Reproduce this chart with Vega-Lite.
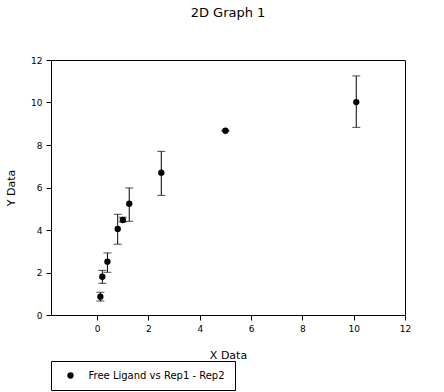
{
  "$schema": "https://vega.github.io/schema/vega-lite/v6.json",
  "width": 354,
  "height": 255,
  "autosize": {"type": "none"},
  "padding": {"left": 51, "top": 60, "right": 39, "bottom": 77},
  "background": "white",
  "title": {"text": "2D Graph 1", "fontSize": 13, "font": "DejaVu Sans", "fontWeight": "normal", "anchor": "middle", "offset": 36, "color": "black"},
  "config": {
    "view": {"stroke": "black", "strokeWidth": 1},
    "axis": {"grid": false, "domainColor": "black", "tickColor": "black", "labelColor": "black", "titleColor": "black", "labelFont": "DejaVu Sans", "titleFont": "DejaVu Sans", "labelFontSize": 9, "titleFontSize": 11, "titleFontWeight": "normal", "tickSize": 5, "labelPadding": 4, "labelFlush": false, "labelOverlap": false}
  },
  "data": {"values": [
    {"x": 0.125, "y": 0.86, "lo": 0.66, "hi": 1.07},
    {"x": 0.2, "y": 1.8, "lo": 1.49, "hi": 2.1},
    {"x": 0.4, "y": 2.51, "lo": 2.01, "hi": 2.92},
    {"x": 0.8, "y": 4.05, "lo": 3.33, "hi": 4.74},
    {"x": 1.0, "y": 4.47, "lo": 4.38, "hi": 4.6},
    {"x": 1.25, "y": 5.24, "lo": 4.41, "hi": 5.98},
    {"x": 2.5, "y": 6.7, "lo": 5.63, "hi": 7.7},
    {"x": 5.0, "y": 8.67, "lo": 8.65, "hi": 8.69},
    {"x": 10.1, "y": 10.02, "lo": 8.83, "hi": 11.25}
  ]},
  "layer": [
    {
      "mark": {"type": "rule", "color": "black", "strokeWidth": 1},
      "encoding": {
        "x": {"field": "x", "type": "quantitative", "scale": {"domain": [-1.8, 12], "nice": false, "zero": false}, "axis": {"values": [0, 2, 4, 6, 8, 10, 12], "title": "X Data", "titlePadding": 16}},
        "y": {"field": "lo", "type": "quantitative", "scale": {"domain": [0, 12], "nice": false}, "axis": {"values": [0, 2, 4, 6, 8, 10, 12], "title": "Y Data", "titlePadding": 14}},
        "y2": {"field": "hi"}
      }
    },
    {
      "mark": {"type": "tick", "color": "black", "orient": "horizontal", "size": 8, "thickness": 1},
      "encoding": {
        "x": {"field": "x", "type": "quantitative"},
        "y": {"field": "lo", "type": "quantitative"}
      }
    },
    {
      "mark": {"type": "tick", "color": "black", "orient": "horizontal", "size": 8, "thickness": 1},
      "encoding": {
        "x": {"field": "x", "type": "quantitative"},
        "y": {"field": "hi", "type": "quantitative"}
      }
    },
    {
      "mark": {"type": "point", "shape": "circle", "filled": true, "size": 40, "opacity": 1},
      "encoding": {
        "x": {"field": "x", "type": "quantitative"},
        "y": {"field": "y", "type": "quantitative"},
        "color": {"datum": "Free Ligand vs Rep1 - Rep2", "type": "nominal", "scale": {"range": ["black"]},
          "legend": {"title": null, "orient": "none", "legendX": 0, "legendY": 301, "strokeColor": "black", "padding": 9.5, "labelFont": "DejaVu Sans", "labelFontSize": 10, "labelColor": "black", "symbolSize": 40, "symbolType": "circle", "symbolOffset": 5, "labelOffset": 13}}
      }
    }
  ]
}
